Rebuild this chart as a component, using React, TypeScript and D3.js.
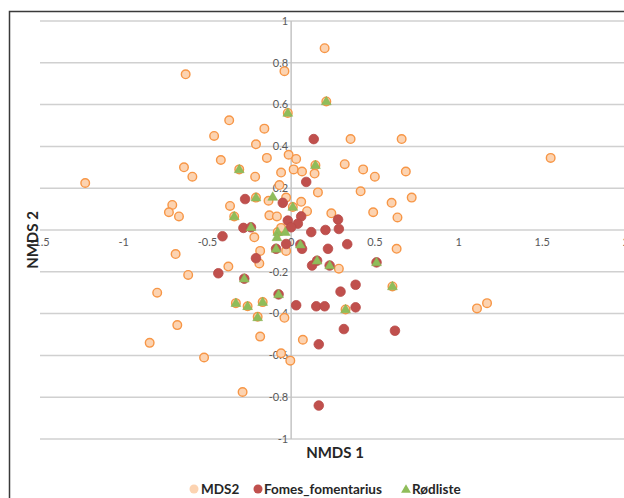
import React from 'react';
import * as d3 from 'd3';

// site scores: [NMDS1, NMDS2]
const mds2: [number, number][] = [
    [0.20, 0.87], [-0.63, 0.745], [-0.04, 0.76], [0.21, 0.615], [-0.02, 0.56],
    [-0.37, 0.525], [-0.46, 0.45], [-0.16, 0.485], [0.355, 0.435], [0.66, 0.435],
    [-0.21, 0.41], [-0.015, 0.36], [-0.42, 0.335], [-0.145, 0.345], [0.03, 0.34],
    [1.55, 0.345], [-0.31, 0.29], [0.145, 0.31], [-0.64, 0.30], [-0.59, 0.255],
    [-0.215, 0.255], [-0.06, 0.275], [0.015, 0.29], [0.065, 0.28], [0.14, 0.27],
    [0.32, 0.315], [0.43, 0.29], [0.50, 0.255], [0.685, 0.28], [-1.23, 0.225],
    [-0.07, 0.215], [0.16, 0.18], [0.415, 0.185], [0.72, 0.155], [0.60, 0.13],
    [-0.21, 0.155], [-0.135, 0.14], [-0.03, 0.155], [0.06, 0.135], [-0.365, 0.115],
    [-0.71, 0.12], [-0.73, 0.085], [-0.67, 0.065], [0.01, 0.11], [0.095, 0.09],
    [0.24, 0.08], [0.49, 0.085], [0.635, 0.06], [-0.34, 0.065], [-0.13, 0.07],
    [-0.085, 0.065], [-0.08, -0.01], [-0.06, 0.01], [-0.22, -0.035], [-0.03, -0.10],
    [-0.185, -0.10], [0.63, -0.09], [-0.69, -0.115], [-0.19, -0.16], [-0.375, -0.175],
    [0.285, -0.185], [-0.615, -0.215], [0.605, -0.27], [-0.80, -0.30], [-0.33, -0.35],
    [-0.26, -0.365], [-0.17, -0.345], [1.17, -0.35], [1.11, -0.375], [0.325, -0.38],
    [-0.04, -0.42], [-0.68, -0.455], [-0.845, -0.54], [-0.185, -0.51], [0.07, -0.525],
    [-0.52, -0.61], [-0.06, -0.59], [-0.005, -0.625], [-0.29, -0.775], [-0.20, -0.415],
];

const fomes: [number, number][] = [
    [0.135, 0.435], [0.09, 0.23], [-0.275, 0.148], [-0.05, 0.13], [0.06, 0.065],
    [-0.02, 0.045], [0.28, 0.05], [0.04, 0.03], [0.0, 0.013], [-0.285, 0.01],
    [-0.24, 0.013], [0.12, -0.01], [0.205, 0.0], [0.285, 0.005], [-0.41, -0.03],
    [-0.03, -0.067], [0.335, -0.068], [0.055, -0.07], [0.22, -0.09], [0.065, -0.09],
    [-0.09, -0.09], [-0.21, -0.135], [0.125, -0.17], [0.155, -0.147], [0.23, -0.17],
    [0.51, -0.155], [-0.435, -0.207], [-0.28, -0.233], [0.385, -0.262], [0.295, -0.295],
    [-0.075, -0.308], [0.03, -0.36], [0.15, -0.365], [0.20, -0.365], [0.385, -0.37],
    [0.315, -0.474], [0.62, -0.482], [0.165, -0.547], [0.165, -0.84],
];

const rodliste: [number, number][] = [
    [0.21, 0.615], [-0.02, 0.56], [-0.31, 0.29], [0.145, 0.31], [-0.21, 0.155],
    [-0.11, 0.158], [0.01, 0.11], [-0.34, 0.065], [-0.24, 0.013], [-0.08, -0.01],
    [-0.035, -0.01], [-0.085, -0.035], [0.055, -0.07], [-0.09, -0.09], [0.155, -0.147],
    [0.23, -0.17], [0.51, -0.155], [-0.28, -0.233], [0.605, -0.27], [-0.075, -0.308],
    [-0.33, -0.35], [-0.26, -0.365], [-0.17, -0.345], [0.325, -0.38], [-0.20, -0.418],
];

const xTicks = [-1.5, -1, -0.5, 0, 0.5, 1, 1.5, 2];
const yTicks = [-1, -0.8, -0.6, -0.4, -0.2, 0, 0.2, 0.4, 0.6, 0.8, 1];

const FONT = 'Lato, "Open Sans", sans-serif';

export default function App() {
    const width = 624;
    const height = 498;

    const x = d3.scaleLinear().domain([-1.5, 2]).range([40, 626]);
    const y = d3.scaleLinear().domain([-1, 1]).range([439, 21]);

    const tri = d3.symbol().type(d3.symbolTriangle).size(42)();
    const fmt = (v: number) => String(v);

    return (
        <div style={{ position: 'absolute', left: 0, top: 0 }}>
            <svg width={width} height={height} style={{ display: 'block', background: '#fff' }}>
                {/* chart frame */}
                <rect x={9.5} y={11.5} width={700} height={600} fill="none" stroke="#3a3a3a" strokeWidth={1.5} />

                {/* horizontal gridlines */}
                {yTicks.map(t => (
                    <line key={'g' + t} x1={x(-1.5)} x2={x(2)} y1={y(t)} y2={y(t)} stroke="#d0d0d0" strokeWidth={1.5} />
                ))}
                {/* vertical axis at 0 */}
                <line x1={x(0)} x2={x(0)} y1={y(1)} y2={y(-1)} stroke="#c4c4c4" strokeWidth={1.5} />

                {/* tick labels */}
                {yTicks.map(t => (
                    <text key={'y' + t} x={x(0) - 3} y={y(t)} dy="0.35em" textAnchor="end"
                        fontFamily={FONT} fontSize={11} fill="#595959">{fmt(t)}</text>
                ))}
                {xTicks.map(t => (
                    <text key={'x' + t} x={x(t)} y={y(0) + 16} textAnchor="middle"
                        fontFamily={FONT} fontSize={11} fill="#595959">{fmt(t)}</text>
                ))}

                {/* series */}
                {mds2.map(([a, b], i) => (
                    <circle key={'m' + i} cx={x(a)} cy={y(b)} r={4.3} fill="#fcd3b1" stroke="#f79646" strokeWidth={1.4} />
                ))}
                {fomes.map(([a, b], i) => (
                    <circle key={'f' + i} cx={x(a)} cy={y(b)} r={4.8} fill="#c0504d" stroke="#b84a47" strokeWidth={0.8} />
                ))}
                {rodliste.map(([a, b], i) => (
                    <path key={'r' + i} d={tri || ''} transform={`translate(${x(a)},${y(b) + 0.5})`} fill="#8fbd5a" stroke="#86b352" strokeWidth={0.5} />
                ))}

                {/* axis titles */}
                <text x={335} y={458} textAnchor="middle" fontFamily={FONT} fontSize={15} fontWeight="bold" fill="#262626">NMDS 1</text>
                <text transform="translate(38,240) rotate(-90)" textAnchor="middle" fontFamily={FONT} fontSize={15} fontWeight="bold" fill="#262626">NMDS 2</text>

                {/* legend */}
                <g fontFamily={FONT} fontSize={13.5} fontWeight="bold" fill="#262626">
                    <circle cx={194} cy={489} r={4.5} fill="#fcd3b1" />
                    <text x={201} y={489} dy="0.35em">MDS2</text>
                    <circle cx={258} cy={489} r={4.5} fill="#c0504d" />
                    <text x={264} y={489} dy="0.35em">Fomes_fomentarius</text>
                    <path d={tri || ''} transform="translate(406,490)" fill="#8fbd5a" />
                    <text x={412} y={489} dy="0.35em">Rødliste</text>
                </g>
            </svg>
        </div>
    );
}
